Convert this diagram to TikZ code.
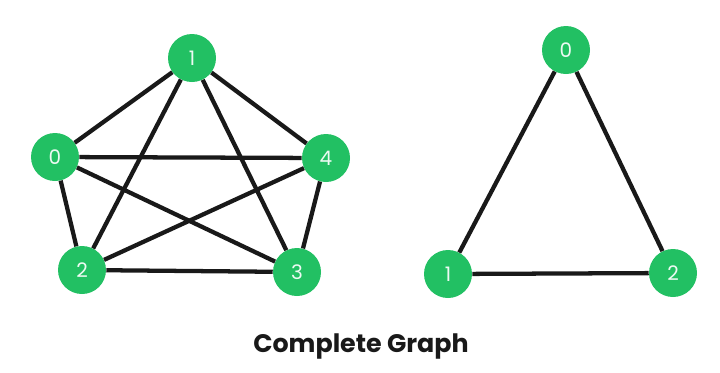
\documentclass[tikz,border=0pt]{standalone}
\usepackage{fontspec}
\setmainfont{Poppins}
\usetikzlibrary{positioning}
\definecolor{vertexgreen}{HTML}{22C063}
\tikzset{
    vertex/.style={circle, fill=vertexgreen, draw=none, minimum size=36pt, inner sep=0pt, text=white!92!vertexgreen, font=\fontsize{15}{18}\selectfont},
    edge/.style={line width=3.2pt, draw=black!90},
    caption/.style={font=\fontsize{19}{22}\selectfont\bfseries, text=black!90}
}
\begin{document}
\begin{tikzpicture}[x=0.75pt, y=-0.75pt]
        \useasboundingbox (0,0) rectangle (720,372);
        
        % Grafo completo con cinque vertici
        \node (a1) [vertex] at (192,58) {1};
        \node (a0) [vertex] at (55,157) {0};
        \node (a4) [vertex] at (326,158) {4};
        \node (a2) [vertex] at (82,270) {2};
        \node (a3) [vertex] at (297,272) {3};
        
        % Grafo completo con tre vertici
        \node (b0) [vertex] at (566,50) {0};
        \node (b1) [vertex] at (448,274) {1};
        \node (b2) [vertex] at (673,273) {2};
        
        \node (titolo) [caption] at (361,346) {Complete Graph};
        
        % Archi
        \foreach \i/\j in {0/1, 0/2, 0/3, 0/4, 1/2, 1/3, 1/4, 2/3, 2/4, 3/4}
            \draw [edge] (a\i) -- (a\j);
        \foreach \i/\j in {0/1, 0/2, 1/2}
            \draw [edge] (b\i) -- (b\j);
        
    \end{tikzpicture}
\end{document}
